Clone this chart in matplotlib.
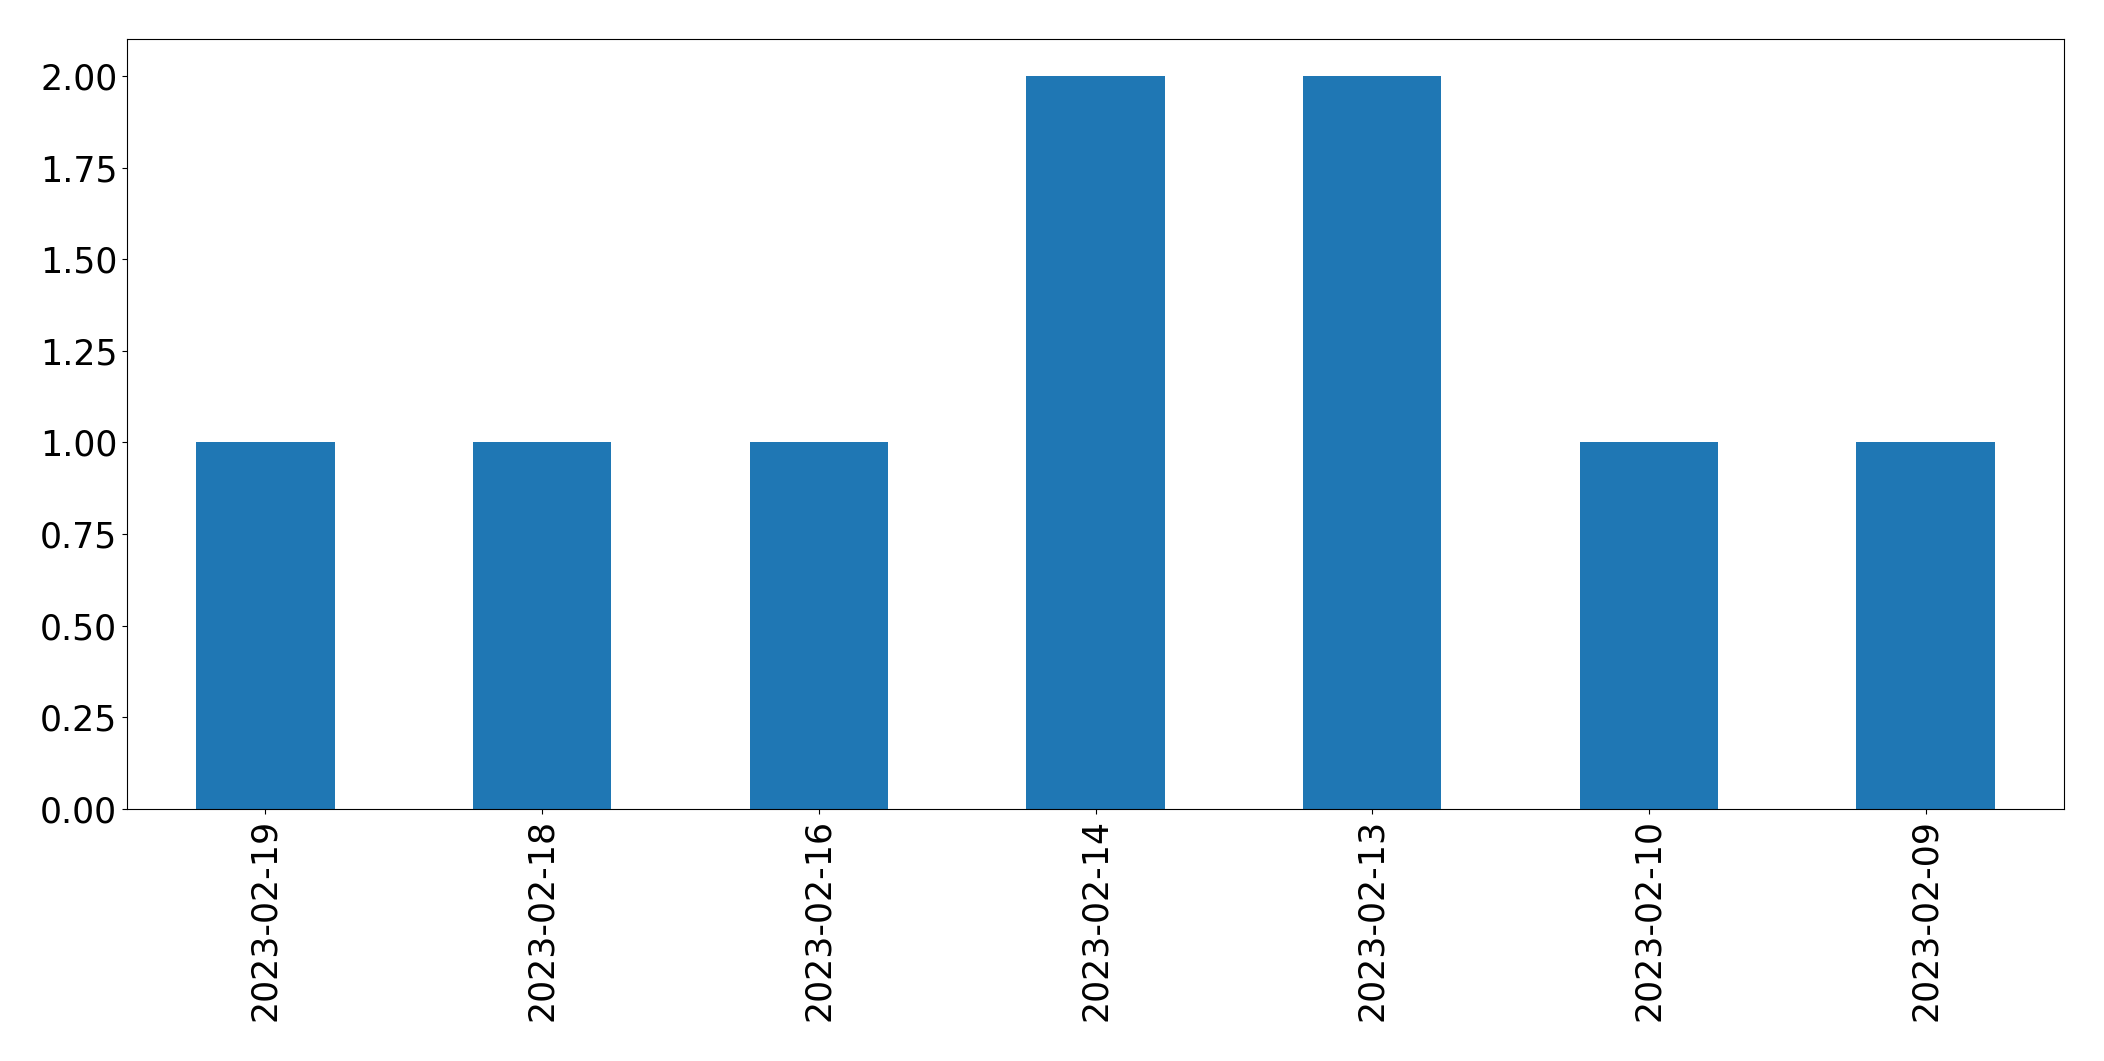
import matplotlib
matplotlib.use("Agg")
import matplotlib.pyplot as plt
import pandas as pd

dates = ["2023-02-19", "2023-02-18", "2023-02-16", "2023-02-14",
         "2023-02-13", "2023-02-10", "2023-02-09"]
counts = [1, 1, 1, 2, 2, 1, 1]

fig = plt.figure(figsize=(21.04, 10.61), dpi=100)
ax = fig.add_subplot(111)
s = pd.Series(counts, index=dates)
s.plot(kind="bar", ax=ax, color="#1f77b4", fontsize=25)
fig.subplots_adjust(left=0.0604, right=0.981, top=0.963, bottom=0.2375)
fig.savefig("out.png", dpi=100)
